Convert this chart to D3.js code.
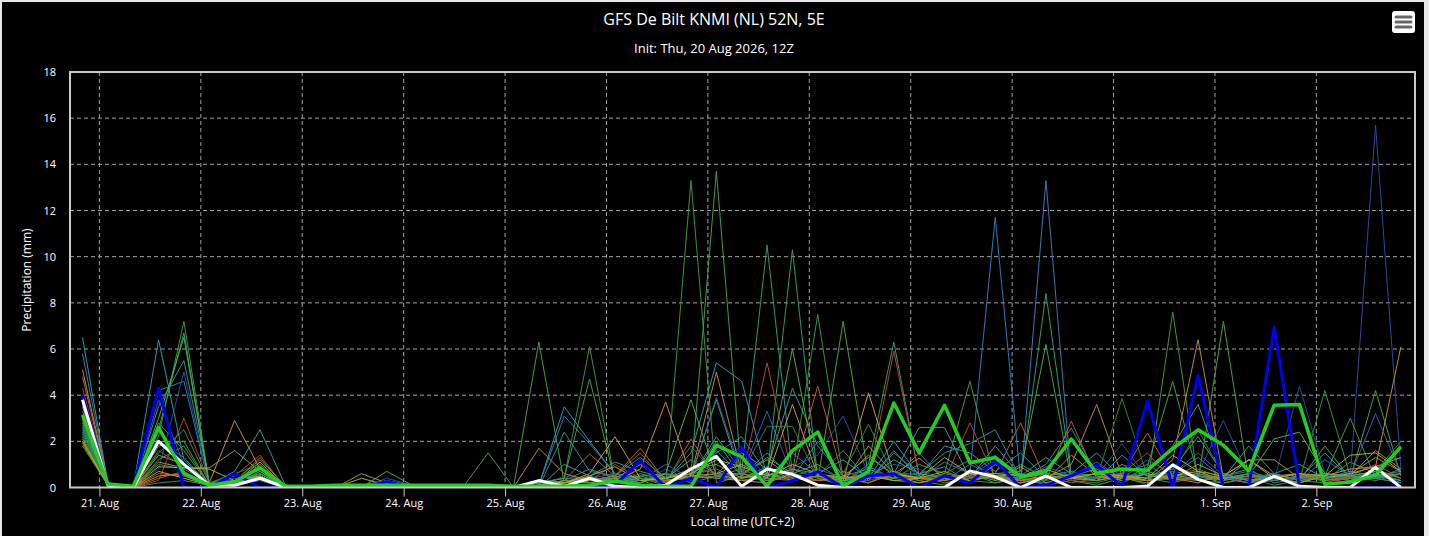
<!DOCTYPE html>
<html>
<head>
<meta charset="utf-8">
<script src="https://cdn.jsdelivr.net/npm/d3@7"></script>
<style>
  body { margin: 0; background: #e6e6e6; }
  svg { display: block; font-family: "Open Sans", sans-serif; }
</style>
</head>
<body>
<div id="chart"></div>
<script>
// GFS ensemble, 6-hourly precipitation (mm), steps from 20 Aug 20:00 local time
const startTime = Date.UTC(2026, 7, 20, 20);
const stepHours = 6;
const yTicks = [0, 2, 4, 6, 8, 10, 12, 14, 16, 18];
const dayTicks = ["2026-08-21", "2026-08-22", "2026-08-23", "2026-08-24", "2026-08-25", "2026-08-26",
    "2026-08-27", "2026-08-28", "2026-08-29", "2026-08-30", "2026-08-31", "2026-09-01", "2026-09-02"];

// thick lines
const opRun = [4.0, 0.1,0,4.3,0, 0,0.6,0,0, 0,0,0,0.25, 0,0,0,0, 0,0,0,0, 0.1,1.15,0,0.4,
    0,1.75,0,0.3, 0.68,0,0.5,0.6, 0,0.5,0.2,1.15, 0,0.1,0.5,0.97, 0.05,3.75,0,4.85, 0,0,6.95,0.05, 0,0,0,0];
const control = [3.8, 0.1,0,2.0,1.0, 0.1,0.1,0.4,0, 0,0,0,0, 0,0,0,0, 0,0.3,0.05,0.4, 0.05,0,0.1,0.8,
    1.35,0.05,0.8,0.57, 0.1,0,0,0, 0,0,0.72,0.46, 0,0.5,0,0, 0,0.05,0.98,0.35, 0,0,0.49,0.05, 0,0,0.87,0];
const ensMean = [3.15, 0.15,0.05,2.6,0.6, 0.1,0.25,0.85,0.05, 0.05,0.1,0.1,0.1, 0.1,0.1,0.1,0.1, 0.05,0.05,0.05,0.1,
    0.28,0.1,0.05,0.05, 1.83,1.33,0.05,1.6, 2.4,0.05,0.7,3.66, 1.5,3.56,1.07,1.3, 0.47,0.7,2.1,0.62,
    0.8,0.75,1.69,2.5, 1.83,0.72,3.56,3.6, 0.14,0.24,0.53,1.76];

// ensemble members (thin lines)
const members = [
  [3.0, 0.1,0,2.2,7.2, 0.2,0.1,0.6,0, 0,0,0.1,0.2, 0,0,0,0, 0,0.1,0.3,0.2, 0.4,0.3,0,13.3, 0.2,0.5,0.3,0.8, 0.4,0.1,0.6,0.3, 0.2,0.5,0.3,0.2, 0.4,0.1,0.3,0.2, 0.5,0.1,7.6,0.3, 0.2,0.4,0.1,0.3, 0.2,0.5,0.4,0.2],
  [2.8, 0.1,0,1.8,2.0, 0.1,0.3,0.5,0, 0,0,0,0.1, 0,0,0,0.1, 0,6.3,0.2,0.4, 0.3,0.5,0.2,0.6, 13.7,0.4,0.9,0.3, 0.5,0.2,0.4,0.7, 0.3,0.1,0.6,0.4, 0.2,0.5,0.3,0.1, 0.4,0.2,0.6,0.3, 7.2,0.3,0.5,0.2, 0.6,0.3,0.8,0.4],
  [2.6, 0.2,0,3.5,5.5, 0.2,0.3,1.2,0.1, 0,0,0.1,0.3, 0.1,0,0,0, 0,0.2,0.4,0.3, 0.5,0.2,0.5,0.4, 2.2,0.7,10.5,0.6, 0.3,0.5,0.8,0.4, 0.6,0.9,0.2,1.0, 0.3,8.4,0.5,0.6, 0.2,0.7,0.4,0.3, 0.5,0.8,0.2,0.4, 0.3,1.1,0.6,0.2],
  [2.4, 0.1,0,2.5,6.7, 0.1,0.2,0.9,0, 0,0,0,0.2, 0,0,0,0, 0,0.3,0.2,0.5, 0.2,0.4,0.1,0.9, 0.6,0.3,0.5,10.3, 0.4,0.2,1.0,6.3, 0.5,0.3,0.6,0.2, 0.4,0.2,0.5,0.3, 0.6,0.4,0.2,0.5, 0.3,0.6,0.4,0.2, 0.5,0.3,0.7,0.4],
  [2.2, 0.1,0,1.5,2.5, 0.2,0.1,1.0,0, 0,0,0,0, 0,0,0.1,0, 0,0.2,0.4,6.1, 0.3,0.2,0.6,0.4, 0.5,0.8,0.3,0.6, 7.5,0.4,0.2,0.7, 0.4,0.6,1.2,0.3, 0.2,0.5,0.7,0.4, 0.6,0.3,0.5,0.8, 0.4,0.2,0.6,0.3, 4.2,0.5,0.3,0.6],
  [2.0, 0.1,0,1.2,1.8, 0.1,0.1,0.4,0, 0,0,0,0, 0,0,0,0, 0,0.1,0.2,0.3, 0.2,0.6,0.3,0.5, 3.8,0.4,0.8,0.6, 0.3,7.2,0.5,0.4, 0.5,0.2,0.4,0.6, 0.7,6.2,0.3,0.5, 0.4,0.6,0.3,0.5, 0.2,0.4,0.6,0.3, 1.8,0.4,4.2,0.5],
  [3.3, 0.2,0,4.2,4.6, 0.1,0.2,0.4,0, 0,0,0,0.1, 0,0,0,0, 0,0.1,3.1,1.9, 0.6,0.4,0.2,0.5, 1.5,2.2,0.6,0.4, 2.0,0.5,0.3,1.6, 0.4,1.1,0.6,11.7, 0.3,0.2,0.5,0.4, 0.6,1.0,0.3,0.5, 0.4,0.2,0.6,0.3, 0.5,0.3,0.4,0.2],
  [5.8, 0.2,0,1.0,0.8, 0.2,0.1,0.3,0, 0,0,0,0, 0,0,0,0, 0,0,0.3,0.8, 0.4,0.3,0.6,0.2, 0.5,0.3,0.4,1.5, 0.6,0.2,0.9,0.4, 1.5,0.3,1.0,0.5, 0.2,13.3,0.4,0.3, 0.5,0.3,0.6,1.3, 0.4,0.2,0.3,0.5, 0.3,0.6,0.4,0.8],
  [3.6, 0.1,0,0.8,5.0, 0.1,0.4,0.3,0, 0,0,0,0.4, 0.1,0,0,0, 0,0,0.5,0.3, 0.4,0.2,0.8,0.3, 1.0,1.8,0.4,0.9, 1.4,3.1,0.6,1.0, 0.8,0.3,0.5,1.2, 0.4,0.6,0.3,0.5, 1.9,0.4,0.8,0.6, 2.9,0.5,0.3,4.4, 0.6,0.4,15.7,0.8],
  [5.1, 0.2,0,0.5,0.6, 0.2,2.9,0.8,0.1, 0,0,0,0, 0,0,0,0, 0,0,0.2,0.4, 0.3,0.8,3.7,0.5, 0.4,0.3,0.2,0.6, 0.3,0.4,1.4,0.5, 0.2,0.4,0.6,0.3, 0.9,0.2,0.4,0.3, 0.5,0.3,0.4,0.2, 0.6,0.3,0.4,0.2, 0.5,0.8,0.9,6.1],
  [1.9, 0.1,0,1.4,1.0, 0.1,0.2,0.5,0, 0,0,0,0, 0,0,0,0, 0,1.7,0.6,0.3, 0.4,1.0,0.2,0.5, 5.0,0.6,1.2,0.4, 0.3,0.5,0.2,0.6, 1.27,0.4,0.3,0.5, 0.2,0.4,1.0,3.6, 0.5,0.3,1.2,6.4, 0.4,0.6,0.3,0.5, 0.4,0.6,1.3,0.7],
  [4.3, 0.2,0,0.3,3.0, 0.2,0.5,1.4,0, 0,0,0,0, 0,0,0,0, 0,0.2,0.1,0.3, 1.0,0.4,0.2,0.6, 0.8,0.3,5.4,0.5, 0.3,0.7,0.4,5.9, 0.5,0.3,2.8,0.4, 0.3,0.5,0.2,0.4, 0.6,1.5,0.3,0.4, 0.5,0.2,0.4,0.6, 0.3,0.5,1.0,0.4],
  [2.9, 0.1,0,0.6,0.5, 0.1,0.1,0.5,0, 0,0,0,0, 0,0,0,0, 0,0.1,0.3,1.45, 0.5,1.5,0.2,2.1, 0.4,0.6,0.3,0.5, 4.4,0.4,0.2,0.6, 0.3,0.5,0.4,0.6, 2.8,0.3,2.88,0.4, 0.6,2.36,0.5,0.3, 0.4,0.6,0.3,0.5, 0.4,0.2,0.6,0.3],
  [6.5, 0.2,0,6.4,1.2, 0.1,0.3,0.6,0, 0,0,0,0, 0,0,0,0, 0,0.1,3.5,2.0, 0.6,0.4,0.3,1.5, 5.4,4.6,0.5,0.8, 0.6,1.2,0.4,2.0, 0.5,1.8,1.5,0.7, 1.5,0.4,0.6,0.3, 1.4,0.5,0.8,2.2, 0.6,0.3,0.5,0.4, 1.5,0.4,0.6,0.3],
  [2.5, 0.1,0,2.0,1.3, 0.1,0.7,2.5,0.1, 0,0,0,0, 0,0,0,0, 0,0,1.0,0.5, 1.1,0.7,0.4,1.2, 0.6,1.5,0.8,4.3, 1.8,0.5,1.3,0.6, 2.6,2.6,0.4,1.8, 0.5,1.3,0.6,1.5, 0.4,0.7,1.8,3.6, 0.5,0.3,0.6,1.0, 0.4,0.7,0.5,0.3],
  [1.8, 0.1,0,2.8,1.6, 0.1,0.2,0.5,0, 0,0,0,0, 0,0,0,1.5, 0,0.2,0.4,4.7, 0.3,0.5,0.6,0.4, 2.0,0.5,1.3,0.6, 1.0,0.3,0.5,0.4, 1.0,0.6,4.6,0.3, 1.0,0.4,0.5,0.8, 0.3,0.9,4.6,0.5, 0.4,1.8,0.6,0.3, 0.5,3.0,0.4,0.6],
  [2.1, 0.1,0,1.1,0.85, 0.85,1.6,0.7,0, 0,0,0.6,0.2, 0,0,0,0, 0,0,0.2,0.3, 0.5,0.3,0.4,0.8, 1.0,0.4,0.6,0.3, 0.5,0.2,1.8,0.6, 0.4,0.7,0.3,0.5, 0.6,0.3,1.4,0.5, 0.3,0.6,0.4,1.0, 0.5,1.2,1.2,0.4, 0.6,0.5,1.6,0.8],
  [3.5, 0.2,0,0.7,0.4, 0.1,0.2,1.1,0, 0,0,0,0, 0,0,0,0, 0,0.3,0.2,0.6, 2.2,0.4,0.3,0.5, 0.6,1.0,0.4,3.6, 0.5,0.3,4.1,0.6, 0.4,0.3,0.6,0.5, 0.3,0.5,0.4,0.6, 0.4,0.3,0.5,0.7, 0.3,1.2,0.5,0.6, 0.4,0.6,0.9,1.3],
  [2.3, 0.1,0,1.6,0.9, 0.2,0.6,1.0,0, 0,0,0,0, 0,0,0,0, 0,0,0.1,0.3, 0.4,0.4,0.3,1.8, 0.5,0.6,2.65,2.65, 0.4,0.6,2.74,0.5, 0.3,0.6,0.4,0.5, 0.4,0.3,0.6,0.4, 3.85,0.5,0.6,2.5, 0.5,0.7,0.4,0.6, 0.4,0.5,0.7,2.0],
  [4.0, 0.2,0,3.8,1.0, 0.1,0.2,0.4,0, 0,0,0,0.3, 0,0,0,0, 0,0,0.2,0.4, 0.6,0.3,1.0,0.4, 3.9,0.6,3.3,0.5, 0.8,0.4,0.3,0.6, 0.6,0.4,0.5,1.4, 0.3,0.9,0.5,1.1, 0.4,1.2,0.6,1.5, 0.5,0.4,0.6,0.3, 1.2,0.5,3.2,0.6],
  [2.7, 0.1,0,0.2,0.3, 0.1,0.1,0.6,0, 0,0,0,0, 0,0,0,0, 0,0,2.4,0.7, 0.5,1.3,0.4,0.6, 1.6,0.5,1.5,0.4, 0.5,1.6,0.3,1.5, 0.6,1.5,1.9,2.5, 0.4,1.0,2.57,0.6, 0.5,0.4,0.7,0.5, 0.4,0.6,0.3,0.5, 0.6,0.4,0.5,0.7],
  [3.1, 0.1,0,3.0,6.5, 0.1,0.1,0.7,0, 0,0,0,0.7, 0.1,0,0,0, 0,0.1,0.3,0.2, 0.4,0.2,0.6,3.8, 0.5,0.4,0.6,6.0, 0.5,0.3,0.4,1.2, 0.6,0.4,0.3,0.5, 0.4,0.6,0.5,0.3, 1.0,0.5,0.4,0.6, 0.4,0.5,2.1,2.4, 0.6,0.5,0.7,1.8],
  [4.8, 0.2,0,0.4,0.7, 0.1,0.2,1.3,0, 0,0,0,0, 0,0,0,0, 0,0,0.2,0.3, 0.5,1.7,0.3,0.4, 0.6,0.6,0.4,0.3, 0.5,0.4,0.6,0.3, 0.4,0.3,0.5,0.4, 0.3,0.5,0.4,1.0, 0.4,0.3,0.5,0.6, 0.3,0.5,0.4,0.6, 0.3,0.4,0.5,0.6],
  [2.0, 0.1,0,0.9,0.85, 0.8,0.3,0.5,0, 0,0,0.4,0.1, 0,0,0,0, 0,0,0.2,0.5, 0.9,0.3,0.4,0.6, 1.2,0.9,0.5,1.0, 0.6,0.4,0.5,0.3, 0.4,1.3,0.6,0.6, 0.5,0.8,0.4,0.6, 0.5,0.4,1.4,0.7, 0.5,1.2,0.4,0.6, 0.5,1.4,1.5,0.7]
];
const memberColors = ["#3c9c3c", "#44a844", "#2e9e7e", "#30a070", "#3a9a3a", "#4aaa3a", "#2f7fc0", "#3a80b8",
    "#2a4e9e", "#d0902a", "#c88a30", "#c0442a", "#c85a30", "#2aa0b0", "#2f9fa0", "#48a048",
    "#a0a028", "#d0a040", "#2e8a2e", "#3062c4", "#2a90a0", "#50b050", "#b07030", "#b0b030"];

const width = 1429, height = 536;
const plot = { left: 70, top: 72, right: 1415, bottom: 487.5 };

const times = d3.range(opRun.length).map(i => new Date(startTime + i * stepHours * 3600e3));

const svg = d3.select("#chart")
    .append("svg")
    .attr("width", width)
    .attr("height", height);

svg.append("rect")
    .attr("x", 2).attr("y", 2)
    .attr("width", 1422).attr("height", height)
    .attr("fill", "#000");

const x = d3.scaleUtc()
    .domain([times[0], times[times.length - 1]])
    .range([82.5, 1400.9]);

const y = d3.scaleLinear()
    .domain([0, 18])
    .range([plot.bottom, plot.top]);

// grid
const tickDates = dayTicks.map(d => new Date(d + "T00:00:00Z"));
svg.append("g")
    .selectAll("line")
    .data(yTicks.slice(1))
    .enter().append("line")
    .attr("x1", plot.left).attr("x2", plot.right)
    .attr("y1", d => y(d)).attr("y2", d => y(d))
    .attr("stroke", "#a0a0a0")
    .attr("stroke-width", 1)
    .attr("stroke-dasharray", "4,3");

svg.append("g")
    .selectAll("line")
    .data(tickDates)
    .enter().append("line")
    .attr("x1", d => x(d)).attr("x2", d => x(d))
    .attr("y1", plot.top).attr("y2", plot.bottom)
    .attr("stroke", "#a0a0a0")
    .attr("stroke-width", 1)
    .attr("stroke-dasharray", "4,3");

svg.append("clipPath").attr("id", "clip")
    .append("rect")
    .attr("x", plot.left).attr("y", plot.top - 2)
    .attr("width", plot.right - plot.left).attr("height", plot.bottom - plot.top + 2);

const line = d3.line()
    .x((d, i) => x(times[i]))
    .y(d => y(d));

const lines = svg.append("g").attr("clip-path", "url(#clip)");

lines.selectAll(".member")
    .data(members)
    .enter().append("path")
    .attr("class", "member")
    .attr("d", line)
    .attr("fill", "none")
    .attr("stroke", (d, i) => memberColors[i])
    .attr("stroke-width", 1)
    .attr("stroke-linejoin", "round")
    .attr("opacity", 0.95);

const thick = [
    { values: opRun, color: "#0000f0", w: 3 },
    { values: control, color: "#ffffff", w: 3 },
    { values: ensMean, color: "#22cc22", w: 3.5 }
];
lines.selectAll(".thick")
    .data(thick)
    .enter().append("path")
    .attr("class", "thick")
    .attr("d", d => line(d.values))
    .attr("fill", "none")
    .attr("stroke", d => d.color)
    .attr("stroke-width", d => d.w)
    .attr("stroke-linejoin", "round");

// plot frame
svg.append("rect")
    .attr("x", plot.left).attr("y", plot.top)
    .attr("width", plot.right - plot.left).attr("height", plot.bottom - plot.top)
    .attr("fill", "none")
    .attr("stroke", "#c8c8c8")
    .attr("stroke-width", 2);

// axes
const xAxis = svg.append("g")
    .attr("transform", "translate(0," + plot.bottom + ")")
    .call(d3.axisBottom(x).tickValues(tickDates).tickFormat(d3.utcFormat("%-d. %b")).tickSize(9).tickPadding(3));
xAxis.select(".domain").remove();
xAxis.selectAll("line").attr("stroke", "#c8c8c8");
xAxis.selectAll("text").attr("fill", "#fff").style("font-size", "11px").style("font-family", "Open Sans");

const yAxis = svg.append("g")
    .attr("transform", "translate(" + (plot.left - 14) + ",0)")
    .call(d3.axisLeft(y).tickValues(yTicks).tickSize(0).tickPadding(0));
yAxis.select(".domain").remove();
yAxis.selectAll("text").attr("fill", "#fff").style("font-size", "11px").style("font-family", "Open Sans");

// titles
svg.append("text")
    .attr("x", 714).attr("y", 25)
    .attr("text-anchor", "middle")
    .attr("fill", "#fff")
    .style("font-size", "16px")
    .text("GFS De Bilt KNMI (NL) 52N, 5E");

svg.append("text")
    .attr("x", 714).attr("y", 53)
    .attr("text-anchor", "middle")
    .attr("fill", "#fff")
    .style("font-size", "13px")
    .text("Init: Thu, 20 Aug 2026, 12Z");

svg.append("text")
    .attr("transform", "translate(31,280) rotate(-90)")
    .attr("text-anchor", "middle")
    .attr("fill", "#fff")
    .style("font-size", "12px")
    .text("Precipitation (mm)");

svg.append("text")
    .attr("x", (plot.left + plot.right) / 2).attr("y", 526)
    .attr("text-anchor", "middle")
    .attr("fill", "#fff")
    .style("font-size", "12px")
    .text("Local time (UTC+2)");

// menu button
const menu = svg.append("g").attr("transform", "translate(1392,11)");
menu.append("rect")
    .attr("width", 23).attr("height", 22).attr("rx", 3)
    .attr("fill", "#fff");
menu.selectAll("line")
    .data([6, 11, 16])
    .enter().append("line")
    .attr("x1", 4).attr("x2", 19)
    .attr("y1", d => d).attr("y2", d => d)
    .attr("stroke", "#666")
    .attr("stroke-width", 3)
    .attr("stroke-linecap", "round");
</script>
</body>
</html>
